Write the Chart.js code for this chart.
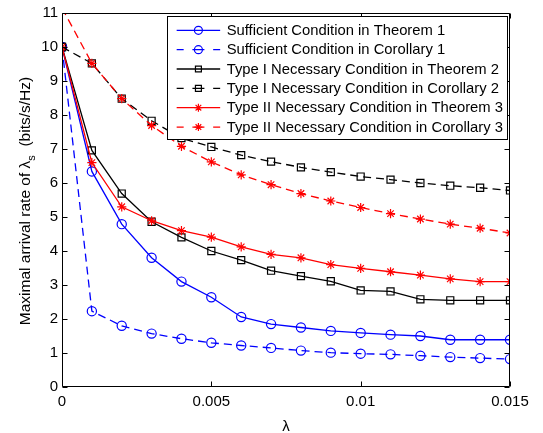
<!DOCTYPE html>
<html><head><meta charset="utf-8">
<style>html,body{margin:0;padding:0;background:#fff}#wrap{width:543px;height:433px}</style>
<script src="https://cdn.jsdelivr.net/npm/chart.js@4/dist/chart.umd.min.js"></script>
</head><body><div id="wrap"><canvas id="c" width="543" height="433"></canvas></div>
<script>
// ---- data ----
const lambdaValues = [0, 0.001, 0.002, 0.003, 0.004, 0.005, 0.006, 0.007, 0.008, 0.009, 0.010, 0.011, 0.012, 0.013, 0.014, 0.015];
const xTickValues = [0, 0.005, 0.01, 0.015];
const xTickLabels = ['0', '0.005', '0.01', '0.015'];
const yTickValues = [0, 1, 2, 3, 4, 5, 6, 7, 8, 9, 10, 11];
const yTickLabels = ['0', '1', '2', '3', '4', '5', '6', '7', '8', '9', '10', '11'];
const seriesLabels = [
  'Sufficient Condition in Theorem 1',
  'Sufficient Condition in Corollary 1',
  'Type I Necessary Condition in Theorem 2',
  'Type I Necessary Condition in Corollary 2',
  'Type II Necessary Condition in Theorem 3',
  'Type II Necessary Condition in Corollary 3'
];
const suffThm1  = [10, 6.34, 4.79, 3.80, 3.10, 2.64, 2.06, 1.85, 1.75, 1.65, 1.59, 1.54, 1.50, 1.39, 1.39, 1.39];
const suffCor1  = [10, 2.23, 1.80, 1.57, 1.42, 1.30, 1.22, 1.15, 1.07, 1.01, 0.98, 0.96, 0.92, 0.88, 0.85, 0.82];
const typeIThm2 = [10, 6.96, 5.69, 4.86, 4.40, 4.00, 3.73, 3.42, 3.26, 3.11, 2.84, 2.81, 2.58, 2.55, 2.55, 2.55];
const typeICor2 = [10, 9.52, 8.48, 7.83, 7.32, 7.06, 6.82, 6.63, 6.46, 6.32, 6.19, 6.10, 6.00, 5.92, 5.86, 5.78];
const typeIIThm3 = [10, 6.60, 5.30, 4.89, 4.60, 4.41, 4.12, 3.90, 3.80, 3.60, 3.49, 3.39, 3.29, 3.18, 3.10, 3.10];
const typeIICor3 = [11.15, 9.52, 8.48, 7.69, 7.08, 6.62, 6.24, 5.95, 5.69, 5.47, 5.28, 5.10, 4.94, 4.79, 4.67, 4.53];
const yTitleMain = 'Maximal arrival rate of \u03BB';
const yTitleSub = 's';
const yTitleTail = '  (bits/s/Hz)';
const xTitle = '\u03BB';

// ---- styles ----
const FONT = "'Liberation Sans', Arial, sans-serif";
const DASH = [8, 5];
const series = [
  {data: suffThm1,  color: '#0000ff', dash: [],   style: 'circle', r: 4.6, order: 2},
  {data: suffCor1,  color: '#0000ff', dash: DASH, style: 'circle', r: 4.6, order: 2},
  {data: typeIThm2, color: '#000000', dash: [],   style: 'rect',   r: 5.0, order: 1},
  {data: typeICor2, color: '#000000', dash: DASH, style: 'rect',   r: 5.0, order: 1},
  {data: typeIIThm3, color: '#ff0000', dash: [],   style: 'star',  r: 4.6, order: 0},
  {data: typeIICor3, color: '#ff0000', dash: DASH, style: 'star',  r: 4.6, order: 0}
];

const datasets = series.map((s, i) => ({
  label: seriesLabels[i],
  data: lambdaValues.map((x, j) => ({x: x, y: s.data[j]})),
  borderColor: s.color,
  backgroundColor: 'rgba(0,0,0,0)',
  borderWidth: 1.3,
  borderDash: s.dash,
  pointStyle: s.style,
  pointRadius: s.r,
  pointBorderColor: s.color,
  pointBackgroundColor: 'rgba(0,0,0,0)',
  pointBorderWidth: 1.2,
  tension: 0,
  fill: false,
  order: s.order
}));

const framePlugin = {
  id: 'frame',
  afterDatasetsDraw(chart) {
    const ctx = chart.ctx, ca = chart.chartArea;
    const xs = chart.scales.x, ys = chart.scales.y;
    ctx.save();
    ctx.strokeStyle = '#000'; ctx.lineWidth = 1; ctx.setLineDash([]);
    const L = Math.round(ca.left) + 0.5, R = Math.round(ca.right) - 0.5;
    const T = Math.round(ca.top) + 0.5, B = Math.round(ca.bottom) - 0.5;
    ctx.beginPath(); ctx.rect(L, T, R - L, B - T); ctx.stroke();
    const tl = 5;
    ctx.beginPath();
    yTickValues.forEach(v => {
      const y = Math.round(ys.getPixelForValue(v)) + 0.5;
      ctx.moveTo(L, y); ctx.lineTo(L + tl, y);
      ctx.moveTo(R, y); ctx.lineTo(R - tl, y);
    });
    xTickValues.forEach(v => {
      const x = Math.round(xs.getPixelForValue(v)) + 0.5;
      ctx.moveTo(x, B); ctx.lineTo(x, B - tl);
      ctx.moveTo(x, T); ctx.lineTo(x, T + tl);
    });
    ctx.stroke();

    // legend
    const fs = 14.8;
    ctx.font = fs + 'px ' + FONT;
    let maxW = 0;
    seriesLabels.forEach(t => { maxW = Math.max(maxW, ctx.measureText(t).width); });
    const boxRight = ca.right - 3;
    const textX = boxRight - 4 - maxW;
    const lineX1 = textX - 50, lineX2 = textX - 6.5, markX = (lineX1 + lineX2) / 2;
    const boxLeft = lineX1 - 9.5;
    const boxTop = ca.top + 3, rowH = 19.35, firstRow = boxTop + 14.3;
    const boxBottom = firstRow + rowH * 5 + 12.3;
    ctx.fillStyle = '#fff';
    ctx.fillRect(boxLeft, boxTop, boxRight - boxLeft, boxBottom - boxTop);
    ctx.strokeStyle = '#000'; ctx.lineWidth = 1;
    ctx.strokeRect(Math.round(boxLeft) + 0.5, Math.round(boxTop) + 0.5, Math.round(boxRight - boxLeft), Math.round(boxBottom - boxTop));
    series.forEach((s, i) => {
      const y = firstRow + rowH * i;
      ctx.strokeStyle = s.color; ctx.lineWidth = 1.3;
      ctx.beginPath();
      if (s.dash.length) {
        ctx.moveTo(lineX1, y); ctx.lineTo(lineX1 + 7, y);
        ctx.moveTo(lineX2 - 7, y); ctx.lineTo(lineX2, y);
        ctx.moveTo(markX - 6, y); ctx.lineTo(markX + 6, y);
      } else {
        ctx.moveTo(lineX1, y); ctx.lineTo(lineX2, y);
      }
      ctx.stroke();
      ctx.fillStyle = 'rgba(0,0,0,0)';
      ctx.lineWidth = 1.2;
      Chart.helpers.drawPoint(ctx, {pointStyle: s.style, radius: s.style === 'rect' ? 4.2 : 4, rotation: 0, borderWidth: 1.2}, markX, y);
      ctx.fillStyle = '#000';
      ctx.textAlign = 'left'; ctx.textBaseline = 'middle';
      ctx.fillText(seriesLabels[i], textX, y + 0.5);
    });

    // y-axis title with subscript
    ctx.save();
    ctx.translate(25, 201);
    ctx.rotate(-Math.PI / 2);
    ctx.fillStyle = '#000';
    const f1 = '15.5px ' + FONT, f2 = '11px ' + FONT;
    ctx.font = f1; const w1 = ctx.measureText(yTitleMain).width; const w3 = ctx.measureText(yTitleTail).width;
    ctx.font = f2; const w2 = ctx.measureText(yTitleSub).width;
    const total = w1 + w2 + w3;
    let x0 = -total / 2;
    ctx.textAlign = 'left'; ctx.textBaseline = 'alphabetic';
    ctx.font = f1; ctx.fillText(yTitleMain, x0, 5);
    ctx.font = f2; ctx.fillText(yTitleSub, x0 + w1, 9.5);
    ctx.font = f1; ctx.fillText(yTitleTail, x0 + w1 + w2, 5);
    ctx.restore();
    ctx.restore();
  }
};

new Chart(document.getElementById('c'), {
  type: 'line',
  data: {datasets: datasets},
  options: {
    responsive: false,
    animation: false,
    devicePixelRatio: 1,
    layout: {padding: {top: 7, right: 33, left: 0, bottom: 0}},
    plugins: {legend: {display: false}, tooltip: {enabled: false}},
    scales: {
      x: {
        type: 'linear', min: 0, max: 0.015,
        afterBuildTicks: s => { s.ticks = xTickValues.map(v => ({value: v})); },
        afterFit: s => { s.height = 46; },
        ticks: {callback: (v, i) => xTickLabels[i], color: '#000', font: {family: FONT, size: 15}, padding: 6, maxRotation: 0, autoSkip: false},
        grid: {display: false, drawTicks: false},
        border: {display: false},
        title: {display: true, text: xTitle, color: '#000', font: {family: FONT, size: 15, lineHeight: 0.8}, padding: {top: 0, bottom: 0}}
      },
      y: {
        type: 'linear', min: 0, max: 11,
        afterBuildTicks: s => { s.ticks = yTickValues.map(v => ({value: v})); },
        afterFit: s => { s.width = 62; },
        ticks: {callback: (v, i) => yTickLabels[i], color: '#000', font: {family: FONT, size: 15}, padding: 4, autoSkip: false},
        grid: {display: false, drawTicks: false},
        border: {display: false}
      }
    }
  },
  plugins: [framePlugin]
});
</script>
</body></html>
